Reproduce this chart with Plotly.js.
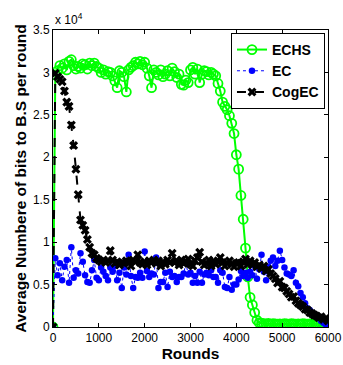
<!DOCTYPE html>
<html>
<head>
<meta charset="utf-8">
<script src="https://cdn.plot.ly/plotly-3.0.1.min.js"></script>
<style>html,body{margin:0;padding:0;background:#fff;}#chart{width:343px;height:365px;}</style>
</head>
<body>
<div id="chart"></div>
<script>
const rounds = [0,50,100,150,200,250,300,350,400,450,
500,550,600,650,700,750,800,850,900,950,
1000,1050,1100,1150,1200,1250,1300,1350,1400,1450,
1500,1550,1600,1650,1700,1750,1800,1850,1900,1950,
2000,2050,2100,2150,2200,2250,2300,2350,2400,2450,
2500,2550,2600,2650,2700,2750,2800,2850,2900,2950,
3000,3050,3100,3150,3200,3250,3300,3350,3400,3450,
3500,3550,3600,3650,3700,3750,3800,3850,3900,3950,
4000,4050,4100,4150,4200,4250,4300,4350,4400,4450,
4500,4550,4600,4650,4700,4750,4800,4850,4900,4950,
5000,5050,5100,5150,5200,5250,5300,5350,5400,5450,
5500,5550,5600,5650,5700,5750,5800,5850,5900,5950,
6000];

const echs = [0,29700,30200,30800,30500,31000,30300,31300,31500,30800,
30400,30700,30500,31000,30900,30400,31100,30800,31100,30700,
30500,30000,30300,29800,30100,30000,29600,29000,28200,30200,
30000,29500,27700,30300,30600,30800,31200,31000,31300,30900,
31200,30500,29600,28200,30300,30000,29700,30300,29500,29800,
30200,29600,30500,30100,29400,29800,28600,28500,29100,28800,
30300,30600,29800,30400,28800,29800,30200,30100,29700,30000,
29800,29600,28700,27800,26500,26000,25600,24900,24000,22800,
20300,18600,15500,12700,9300,5900,3500,2600,1700,800,
500,450,400,380,420,350,400,360,330,380,
350,400,370,340,390,360,330,370,350,400,
380,340,360,390,350,370,400,360,380,420,
450];

const ec = [0,8100,6100,7500,5500,7100,7900,5200,9400,5800,
6700,6300,8700,7700,6100,5300,5200,6700,7900,5800,
5500,7000,6500,6000,5500,7000,6500,7200,5500,6400,
4600,7000,6200,8500,6000,4600,5900,5800,6400,5800,
8900,6600,5900,6300,6200,8200,4600,5300,5300,6400,
4700,6500,5900,6000,5300,5900,5900,6300,7500,6200,
6400,5200,6000,5200,6500,5200,6200,6400,6100,6700,
5900,5900,5200,6700,6400,4700,4600,5900,4400,5000,
5000,5600,6600,6000,6400,5800,6500,6100,7200,5700,
6800,8500,6500,5500,7100,7800,8200,7200,7800,9000,
7900,7000,6300,6200,6000,6700,5200,4800,4000,3500,
2800,2200,2000,1700,1500,1200,1000,700,500,300,
200];

const cogec = [0,29900,29500,29200,28900,27800,26500,26000,23800,21400,
18600,15600,12600,12000,11400,10300,9400,8700,8500,8100,
7900,7700,7900,7600,7800,9000,7900,7500,7700,7300,
7600,7500,7800,7700,7200,7900,7700,8500,7600,7400,
7700,7300,7800,7600,7900,7500,7800,7200,7700,7400,
7900,7600,8700,7600,7800,7300,7900,7500,7700,8000,
7400,7200,7800,8200,8800,7700,7300,7500,7900,7200,
7800,7400,7700,8200,7600,7200,7500,7800,7400,7100,
7500,7600,7200,7700,8000,7400,7800,7300,7600,7100,
7300,6900,7200,6600,6800,6300,6000,5700,5200,5400,
4700,4600,4200,3900,3500,3600,3100,2800,2600,2400,
2100,2000,1700,1600,1400,1300,1100,1200,900,1000,
700];

const seriesNames = ['ECHS', 'EC', 'CogEC'];
const xTicks = [0,1000,2000,3000,4000,5000,6000];
const yTickVals = [0,5000,10000,15000,20000,25000,30000,35000];
const yTickText = ['0','0.5','1','1.5','2','2.5','3','3.5'];

const FONT = 'Liberation Sans, Arial, Helvetica, sans-serif';

const traces = [
  {x: rounds, y: echs, name: '<b>' + seriesNames[0] + '</b>', type: 'scatter', mode: 'lines+markers',
   line: {color: '#00ff00', width: 2},
   marker: {symbol: 'circle-open', size: 9, color: '#00ff00', line: {width: 1.8, color: '#00ff00'}}},
  {x: rounds, y: ec, name: '<b>' + seriesNames[1] + '</b>', type: 'scatter', mode: 'lines+markers',
   line: {color: '#0000ff', width: 1, dash: 'dot'},
   marker: {symbol: 'circle', size: 6.5, color: '#0000ff'}},
  {x: rounds, y: cogec, name: '<b>' + seriesNames[2] + '</b>', type: 'scatter', mode: 'lines+markers',
   line: {color: '#000000', width: 2, dash: 'dash'},
   marker: {symbol: 'x', size: 8, color: '#000000'}}
];

const layout = {
  width: 343, height: 365,
  margin: {l: 53, r: 15, t: 30, b: 38, pad: 0},
  paper_bgcolor: '#ffffff', plot_bgcolor: '#ffffff',
  font: {family: FONT, size: 12, color: '#000'},
  showlegend: true,
  legend: {x: 0.989, y: 0.99, xanchor: 'right', yanchor: 'top',
    bgcolor: '#ffffff', bordercolor: '#000', borderwidth: 1,
    font: {family: FONT, size: 14, color: '#000'}, tracegroupgap: 0},
  xaxis: {range: [0, 6000], tickvals: xTicks, ticktext: xTicks.map(String),
    ticks: 'inside', ticklen: 4, tickcolor: '#000', showline: true, linecolor: '#000', linewidth: 1,
    mirror: 'ticks', showgrid: false, zeroline: false,
    tickfont: {family: FONT, size: 12},
    title: {text: '<b>Rounds</b>', font: {family: FONT, size: 15.5}, standoff: 1}, automargin: false},
  yaxis: {range: [0, 35000], tickvals: yTickVals, ticktext: yTickText,
    ticks: 'inside', ticklen: 4, tickcolor: '#000', showline: true, linecolor: '#000', linewidth: 1,
    mirror: 'ticks', showgrid: false, zeroline: false,
    tickfont: {family: FONT, size: 12},
    title: {text: '<b>Average Numbere of bits to B.S per round</b>', font: {family: FONT, size: 15.5}, standoff: 2}, automargin: false},
  annotations: [{text: 'x 10<sup>4</sup>', xref: 'paper', yref: 'paper', x: 0, y: 1, xanchor: 'left', yanchor: 'bottom',
    yshift: 1, showarrow: false, font: {family: FONT, size: 12}}]
};

Plotly.newPlot('chart', traces, layout, {displayModeBar: false, staticPlot: true});
</script>
</body>
</html>
